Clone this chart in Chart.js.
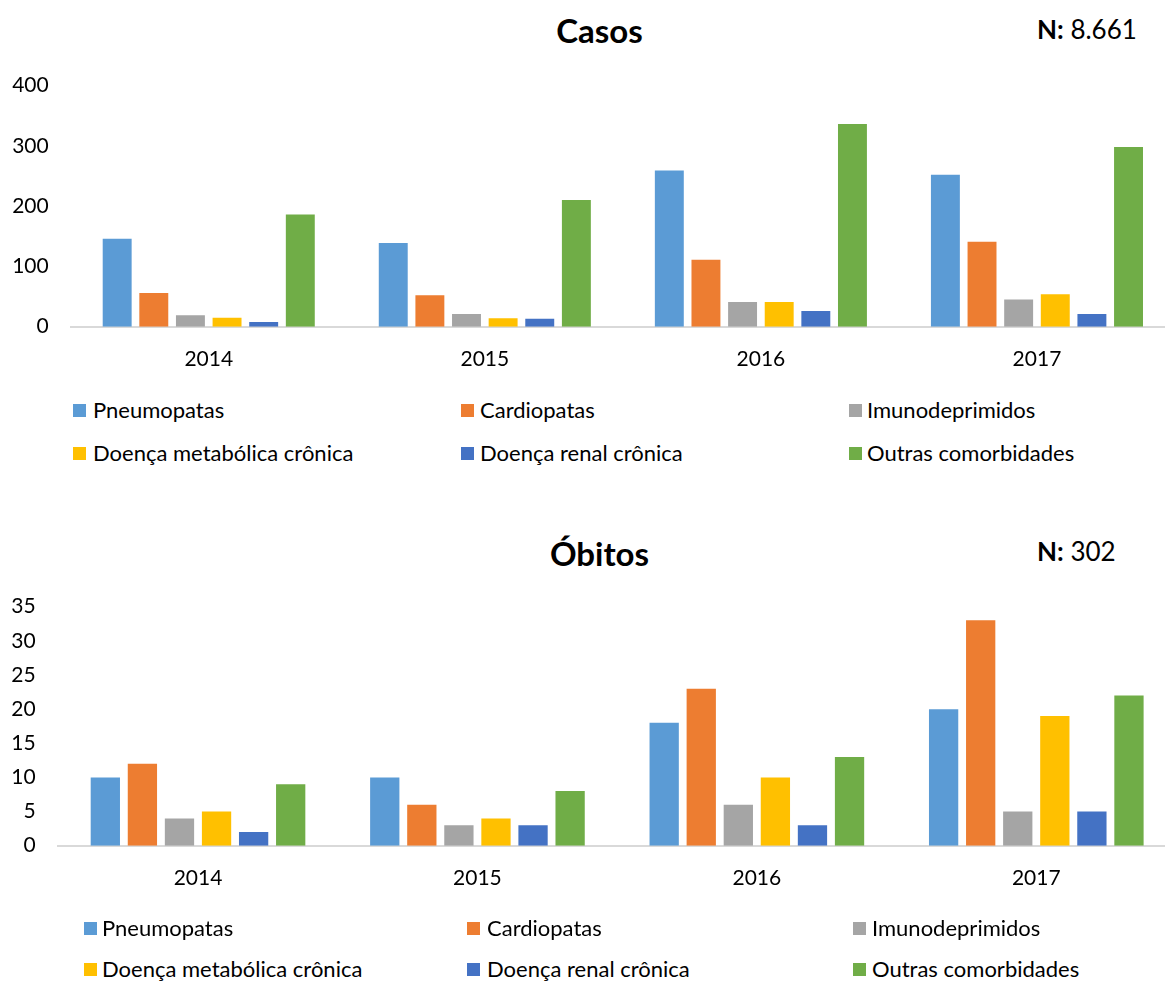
<!DOCTYPE html>
<html>
<head>
<meta charset="utf-8">
<script src="https://cdn.jsdelivr.net/npm/chart.js@4.4.1/dist/chart.umd.min.js"></script>
<style>
  html, body { margin: 0; padding: 0; background: #fff; overflow: hidden; }
  body { width: 1165px; height: 981px; position: relative; font-family: Lato, sans-serif; color: #000; }
  canvas { position: absolute; left: 0; }
  .titulo { position: absolute; left: 0; width: 1199px; text-align: center; font-weight: bold; font-size: 33px; line-height: 40px; }
  .n { position: absolute; font-size: 26px; line-height: 40px; }
  .leg { position: absolute; font-size: 22px; line-height: 30px; white-space: nowrap; }
  .leg i { position: absolute; width: 13px; height: 13px; top: 9px; }
</style>
</head>
<body>
<div class="titulo" style="top:10px">Casos</div>
<div class="n" style="left:1037px; top:9px"><b>N:</b> 8.661</div>
<canvas id="casosChart" width="1175" height="380" style="top:0"></canvas>
<div id="legCasos"></div>

<div class="titulo" style="top:533px">Óbitos</div>
<div class="n" style="left:1037px; top:531px"><b>N:</b> 302</div>
<canvas id="obitosChart" width="1176" height="400" style="top:520px"></canvas>
<div id="legObitos"></div>

<script>
// dados
const anos = ['2014', '2015', '2016', '2017'];
const series = ['Pneumopatas', 'Cardiopatas', 'Imunodeprimidos', 'Doença metabólica crônica', 'Doença renal crônica', 'Outras comorbidades'];

const casosPneumopatas = [146, 139, 259, 252];
const casosCardiopatas = [56, 52, 111, 141];
const casosImunodeprimidos = [19, 21, 41, 45];
const casosMetabolica = [15, 14, 41, 54];
const casosRenal = [8, 13, 26, 21];
const casosOutras = [186, 210, 336, 298];

const obitosPneumopatas = [10, 10, 18, 20];
const obitosCardiopatas = [12, 6, 23, 33];
const obitosImunodeprimidos = [4, 3, 6, 5];
const obitosMetabolica = [5, 4, 10, 19];
const obitosRenal = [2, 3, 3, 5];
const obitosOutras = [9, 8, 13, 22];

const casosTicks = { max: 400, step: 100 };
const obitosTicks = { max: 35, step: 5 };

const cores = ['#5B9BD5', '#ED7D31', '#A5A5A5', '#FFC000', '#4472C4', '#70AD47'];

function montarDatasets(valores) {
  return valores.map((v, i) => ({
    label: series[i],
    data: v,
    backgroundColor: cores[i],
    borderWidth: 0,
    categoryPercentage: 0.796,
    barPercentage: 0.79
  }));
}

function criarGrafico(id, valores, ticks, opt) {
  new Chart(document.getElementById(id), {
    type: 'bar',
    data: { labels: anos, datasets: montarDatasets(valores) },
    options: {
      responsive: false,
      animation: false,
      layout: { padding: { top: opt.top, right: 0, bottom: 0, left: 0 } },
      plugins: { legend: { display: false }, title: { display: false }, tooltip: { enabled: false } },
      scales: {
        x: {
          grid: { display: false },
          border: { display: true, color: '#D9D9D9', width: 2 },
          ticks: { color: '#000', font: { size: 21 }, padding: 12 },
          afterFit: (s) => { s.height = opt.xh; }
        },
        y: {
          min: 0,
          max: ticks.max,
          grid: { display: false },
          border: { display: false },
          ticks: { stepSize: ticks.step, color: '#000', font: { size: 21 }, padding: opt.ypad },
          afterFit: (s) => { s.width = opt.left; }
        }
      }
    }
  });
}

function montarLegenda(id, quadX, textoX, linhasY) {
  const el = document.getElementById(id);
  series.forEach((nome, i) => {
    const col = i % 3, lin = Math.floor(i / 3);
    const d = document.createElement('div');
    d.className = 'leg';
    d.style.top = (linhasY[lin] - 15) + 'px';
    d.style.left = quadX[col] + 'px';
    d.innerHTML = '<i style="left:0;background:' + cores[i] + '"></i>' +
      '<span style="position:absolute;left:' + (textoX[col] - quadX[col]) + 'px">' + nome + '</span>';
    el.appendChild(d);
  });
}

document.fonts.load('20px Lato').then(() => {
  Chart.defaults.font.family = 'Lato, sans-serif';
  criarGrafico('casosChart',
    [casosPneumopatas, casosCardiopatas, casosImunodeprimidos, casosMetabolica, casosRenal, casosOutras],
    casosTicks, { top: 85.5, xh: 53.3, left: 70.7, ypad: 14 });
  criarGrafico('obitosChart',
    [obitosPneumopatas, obitosCardiopatas, obitosImunodeprimidos, obitosMetabolica, obitosRenal, obitosOutras],
    obitosTicks, { top: 86.7, xh: 74.3, left: 58.3, ypad: 14.7 });
  montarLegenda('legCasos', [73, 461, 849], [93, 480, 867], [410, 453]);
  montarLegenda('legObitos', [84, 467, 853], [102, 487, 872], [928, 969]);
});
</script>
</body>
</html>
